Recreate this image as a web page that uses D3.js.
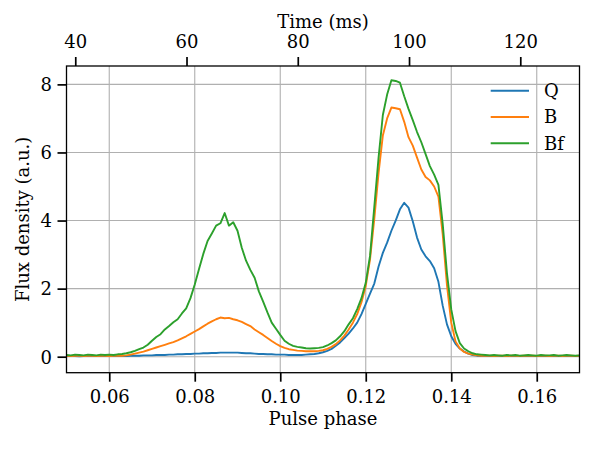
<!DOCTYPE html>
<html>
<head>
<meta charset="utf-8">
<script src="https://cdn.jsdelivr.net/npm/d3@7"></script>
<style>
  html, body { margin: 0; padding: 0; background: #fff; }
  svg { display: block; }
  text { font-family: "DejaVu Serif", serif; fill: #000; }
</style>
</head>
<body>
<svg id="chart" width="600" height="449"></svg>
<script>
// ---- data ----
const phaseStart = 0.05;   // first bin
const phaseStep = 0.001;   // bin width
const periodMs = 768.5;    // phase -> time conversion for the top axis

const seriesNames = ["Q", "B", "Bf"];
const seriesColors = ["#1f77b4", "#ff7f0e", "#2ca02c"];

const fluxQ = [
  0.02,0.02,0.02,0.01,0.02,0.02,0.02,0.02,0.02,0.02,0.02,0.02,0.02,0.02,0.02,
  0.03,0.03,0.03,0.04,0.04,0.04,0.05,0.05,0.05,0.06,0.06,0.07,0.07,0.08,0.08,
  0.09,0.09,0.10,0.10,0.11,0.11,0.12,0.12,0.12,0.12,0.12,0.11,0.10,0.10,0.09,
  0.08,0.08,0.07,0.07,0.06,0.06,0.06,0.05,0.05,0.05,0.05,0.06,0.07,0.08,0.10,
  0.13,0.17,0.23,0.32,0.42,0.55,0.68,0.83,1.00,1.25,1.55,1.85,2.15,2.65,3.05,
  3.35,3.70,4.00,4.33,4.52,4.38,3.98,3.50,3.15,2.95,2.81,2.60,2.20,1.50,0.95,
  0.60,0.38,0.24,0.15,0.09,0.05,0.03,0.02,0.02,
  0.02,0.02,0.02,0.02,0.02,0.02,0.02,0.02,0.02,0.02,0.02,
  0.02,0.02,0.02,0.02,0.02,0.02,0.02,0.02,0.02,0.02,0.02
];

const fluxB = [
  0.03,0.02,0.03,0.03,0.02,0.03,0.03,0.02,0.03,0.03,0.02,0.03,0.03,0.03,
  0.04,0.06,0.09,0.12,0.15,0.19,0.23,0.27,0.31,0.35,0.39,0.43,0.48,0.54,0.60,0.67,
  0.74,0.81,0.89,0.97,1.04,1.10,1.15,1.13,1.14,1.10,1.07,1.02,0.96,0.90,0.80,
  0.72,0.64,0.55,0.46,0.38,0.31,0.26,0.22,0.20,0.18,0.17,0.16,0.16,0.16,0.17,
  0.19,0.23,0.29,0.37,0.48,0.62,0.80,1.00,1.25,1.60,2.08,2.86,4.05,5.40,6.50,
  7.00,7.32,7.30,7.27,6.90,6.45,6.20,5.85,5.50,5.28,5.18,5.00,4.70,3.60,2.10,
  1.00,0.45,0.24,0.14,0.09,0.06,0.04,0.03,0.03,
  0.03,0.02,0.03,0.03,0.02,0.03,0.03,0.02,0.03,0.03,0.03,
  0.02,0.03,0.03,0.02,0.03,0.03,0.02,0.03,0.03,0.02,0.03
];

const fluxBf = [
  0.05,0.04,0.06,0.05,0.04,0.06,0.05,0.04,0.06,0.05,0.06,0.05,0.07,0.08,
  0.10,0.13,0.17,0.22,0.27,0.35,0.47,0.58,0.66,0.80,0.90,1.01,1.10,1.27,1.42,1.72,
  2.12,2.58,3.02,3.40,3.62,3.85,3.92,4.22,3.85,3.95,3.70,3.20,2.82,2.55,2.32,
  1.92,1.62,1.30,1.00,0.82,0.64,0.47,0.38,0.32,0.29,0.27,0.25,0.24,0.25,0.26,
  0.28,0.33,0.40,0.48,0.60,0.75,0.95,1.13,1.40,1.72,2.17,2.96,4.40,5.85,7.10,
  7.70,8.12,8.10,8.05,7.65,7.28,6.95,6.60,6.30,5.95,5.60,5.35,5.05,3.90,2.45,
  1.39,0.75,0.40,0.24,0.16,0.10,0.07,0.06,0.05,
  0.04,0.05,0.04,0.03,0.05,0.04,0.05,0.03,0.04,0.05,0.04,
  0.03,0.05,0.04,0.04,0.05,0.03,0.04,0.05,0.04,0.03,0.04
];

const phaseTicks = [0.06, 0.08, 0.10, 0.12, 0.14, 0.16];
const timeTicks = [40, 60, 80, 100, 120];
const fluxTicks = [0, 2, 4, 6, 8];

// ---- layout ----
const L = 66.5, R = 579.5, T = 66, B = 372.7;
const svg = d3.select("#chart");
svg.append("rect").attr("width", 600).attr("height", 449).attr("fill", "#fff");

const x = d3.scaleLinear().domain([0.05, 0.17]).range([L, R]);
const xTop = d3.scaleLinear().domain([0.05 * periodMs, 0.17 * periodMs]).range([L, R]);
const y = d3.scaleLinear().domain([-0.47, 8.54]).range([B, T]);

// grid
const grid = svg.append("g").attr("stroke", "#b0b0b0").attr("stroke-width", 1.1);
grid.selectAll("line.v").data(phaseTicks).join("line")
  .attr("x1", d => x(d)).attr("x2", d => x(d)).attr("y1", T).attr("y2", B);
grid.selectAll("line.h").data(fluxTicks).join("line")
  .attr("x1", L).attr("x2", R).attr("y1", d => y(d)).attr("y2", d => y(d));

// lines
svg.append("clipPath").attr("id", "clip").append("rect")
  .attr("x", L).attr("y", T).attr("width", R - L).attr("height", B - T);
const allSeries = [fluxQ, fluxB, fluxBf];
const line = d3.line()
  .x((d, i) => x(phaseStart + i * phaseStep))
  .y(d => y(d));
const lg = svg.append("g").attr("clip-path", "url(#clip)");
allSeries.forEach((s, k) => {
  lg.append("path").datum(s)
    .attr("d", line)
    .attr("fill", "none")
    .attr("stroke", seriesColors[k])
    .attr("stroke-width", 1.9)
    .attr("stroke-linejoin", "round");
});

// frame
svg.append("rect").attr("x", L).attr("y", T).attr("width", R - L).attr("height", B - T)
  .attr("fill", "none").attr("stroke", "#000").attr("stroke-width", 1.3);

function styleAxis(g) {
  g.select(".domain").remove();
  g.selectAll(".tick line").attr("stroke", "#000").attr("stroke-width", 1.7);
  g.selectAll(".tick text").attr("font-family", "DejaVu Serif").attr("font-size", 18).attr("fill", "#000");
}

// bottom axis
const gx = svg.append("g").attr("transform", `translate(0,${B})`)
  .call(d3.axisBottom(x).tickValues(phaseTicks).tickFormat(d3.format(".2f")).tickSize(9).tickSizeOuter(0));
styleAxis(gx);
gx.selectAll(".tick text").attr("y", 30.5).attr("dy", 0);

// top axis
const gt = svg.append("g").attr("transform", `translate(0,${T})`)
  .call(d3.axisTop(xTop).tickValues(timeTicks).tickFormat(d3.format("d")).tickSize(9).tickSizeOuter(0));
styleAxis(gt);
gt.selectAll(".tick text").attr("y", -18).attr("dy", 0);

// left axis
const gy = svg.append("g").attr("transform", `translate(${L},0)`)
  .call(d3.axisLeft(y).tickValues(fluxTicks).tickFormat(d3.format("d")).tickSize(9).tickSizeOuter(0));
styleAxis(gy);
gy.selectAll(".tick text").attr("x", -14.5).attr("dy", "0.35em");

// axis titles
svg.append("text").attr("x", (L + R) / 2).attr("y", 425).attr("text-anchor", "middle")
  .attr("font-size", 18).text("Pulse phase");
svg.append("text").attr("x", (L + R) / 2).attr("y", 28).attr("text-anchor", "middle")
  .attr("font-size", 18).text("Time (ms)");
svg.append("text").attr("transform", `translate(28.5,${(T + B) / 2}) rotate(-90)`)
  .attr("text-anchor", "middle").attr("font-size", 18).text("Flux density (a.u.)");

// legend
const legend = svg.append("g");
seriesNames.forEach((name, k) => {
  const ly = 90.7 + k * 26.3;
  legend.append("line").attr("x1", 490.7).attr("x2", 529).attr("y1", ly).attr("y2", ly)
    .attr("stroke", seriesColors[k]).attr("stroke-width", 2);
  legend.append("text").attr("x", 544).attr("y", ly).attr("dy", "0.35em")
    .attr("font-size", 18).text(name);
});
</script>
</body>
</html>
